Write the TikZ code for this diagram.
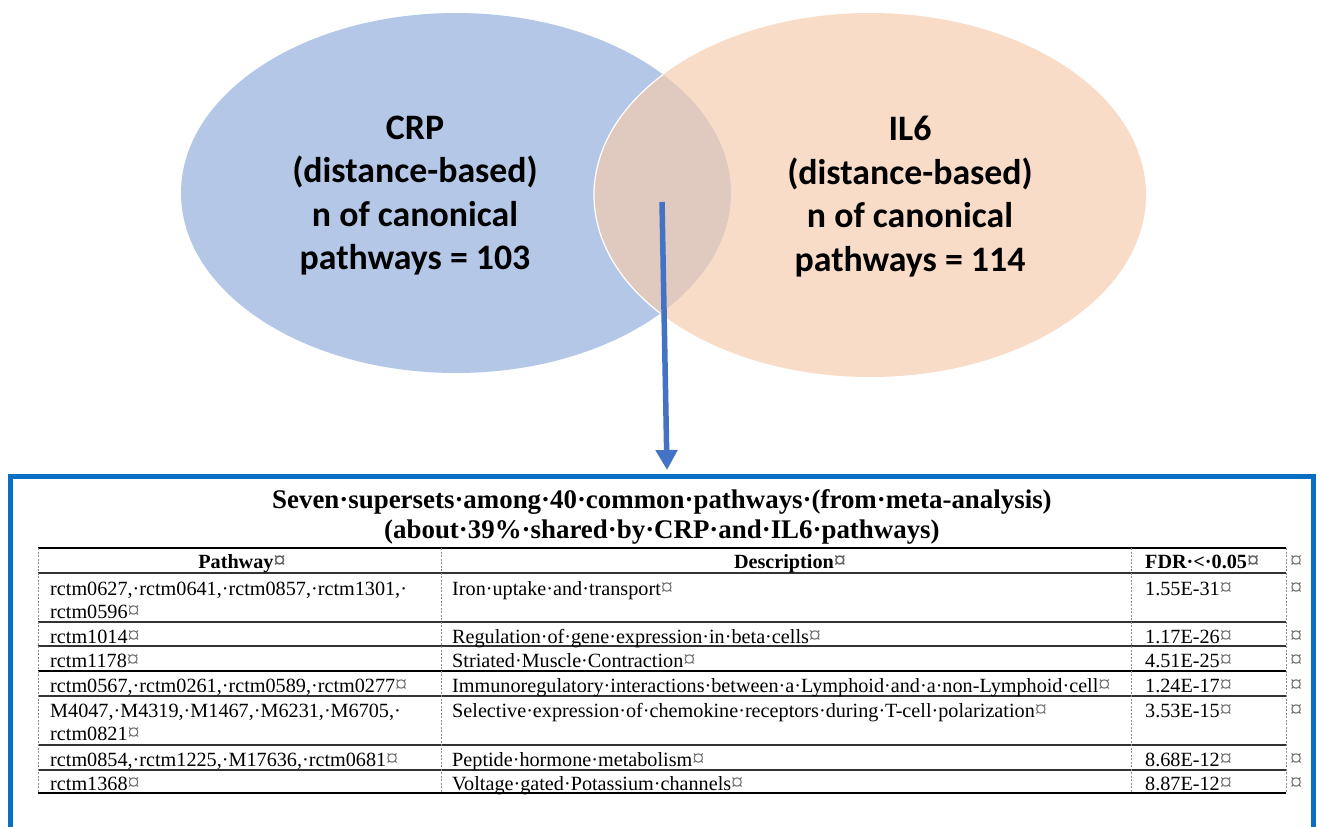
\documentclass[tikz,border=0pt]{standalone}
\usepackage{fontspec}
\setmainfont{Liberation Serif}
\newfontfamily\vennfont{Carlito}
\usetikzlibrary{arrows.meta}
\definecolor{crpblue}{HTML}{B4C7E7}
\definecolor{ilpeach}{HTML}{F9DCC7}
\definecolor{overlapc}{HTML}{E0CAC0}
\definecolor{arrowblue}{HTML}{4472C4}
\definecolor{boxblue}{HTML}{0A6FC2}
\newcommand\cellmk{{\color{black!60}\scalebox{1.2}{¤}}}
\tikzset{
  venntext/.style={font=\vennfont\bfseries\fontsize{35.8}{43.5}\selectfont, align=center, inner sep=0pt, anchor=base},
  titletext/.style={font=\bfseries\fontsize{26.9}{30}\selectfont, align=center, inner sep=0pt, anchor=base},
  cell/.style={font=\fontsize{20.2}{23}\selectfont, align=left, inner sep=0pt, anchor=base west},
  headcell/.style={font=\bfseries\fontsize{20.2}{23}\selectfont, inner sep=0pt, anchor=base},
  endmk/.style={font=\fontsize{20.2}{23}\selectfont, inner sep=0pt, anchor=base west, text=black!60},
  hline/.style={draw=black!80, line width=1.3pt},
  vline/.style={draw=black!45, line width=0.7pt, dash pattern=on 2pt off 1.5pt},
}
\begin{document}
\begin{tikzpicture}[x=1pt,y=-1pt]
\useasboundingbox (0,0) rectangle (1318,827);
\clip (0,0) rectangle (1318,827);
\fill[white] (0,0) rectangle (1318,827);
% Venn
\fill[crpblue] (456,193) ellipse [x radius=275, y radius=180];
\fill[ilpeach] (870,195) ellipse [x radius=276, y radius=182];
\begin{scope}
  \clip (456,193) ellipse [x radius=275, y radius=180];
  \fill[overlapc] (870,195) ellipse [x radius=276, y radius=182];
  \draw[white, line width=1.2pt] (870,195) ellipse [x radius=276, y radius=182];
\end{scope}
\node[venntext] (crp) at (415,269.5) {CRP\\(distance-based)\\n of canonical\\pathways = 103};
\node[venntext] (il6) at (910,271) {IL6\\(distance-based)\\n of canonical\\pathways = 114};
% box
\node[draw=boxblue, line width=5pt, minimum width=1303pt, minimum height=440pt, anchor=north, inner sep=0pt] (box) at (661.5,474) {};
% arrow
\coordinate (vs) at (662,202);
\coordinate (vt) at (667,470);
\draw[arrowblue, line width=5.5pt, -{Triangle[width=21pt,length=20pt]}] (vs) -- (vt);
% title
\node[titletext] (title) at (662,538) {Seven·supersets·among·40·common·pathways·(from·meta-analysis)\\(about·39\%·shared·by·CRP·and·IL6·pathways)};
% table lines
\foreach \yy in {573,622,646,696,745,770} \draw[hline] (38,\yy) -- (1286,\yy);
\foreach \yy in {548,671,793} \draw[hline, draw=black] (38,\yy) -- (1286,\yy);
\foreach \xx in {38,441,1131,1286} \draw[vline] (\xx,548) -- (\xx,793);
% header
\node[headcell] (h1) at (242,568) {Pathway\cellmk};
\node[headcell] (h2) at (790,568) {Description\cellmk};
\node[cell, font=\bfseries\fontsize{20.2}{23}\selectfont] (h3) at (1145,568) {FDR·<·0.05\cellmk};
\node[endmk] (e0) at (1290,568) {\cellmk};
% rows
\node[cell] (r1a) at (50,618) {rctm0627,·rctm0641,·rctm0857,·rctm1301,·\\rctm0596\cellmk};
\node[cell] (r1b) at (452,595) {Iron·uptake·and·transport\cellmk};
\node[cell] (r1c) at (1145,595) {1.55E-31\cellmk};
\node[endmk] (e1) at (1290,595) {\cellmk};
\node[cell] (r2a) at (50,643) {rctm1014\cellmk};
\node[cell] (r2b) at (452,643) {Regulation·of·gene·expression·in·beta·cells\cellmk};
\node[cell] (r2c) at (1145,643) {1.17E-26\cellmk};
\node[endmk] (e2) at (1290,643) {\cellmk};
\node[cell] (r3a) at (50,667) {rctm1178\cellmk};
\node[cell] (r3b) at (452,667) {Striated·Muscle·Contraction\cellmk};
\node[cell] (r3c) at (1145,667) {4.51E-25\cellmk};
\node[endmk] (e3) at (1290,667) {\cellmk};
\node[cell] (r4a) at (50,692) {rctm0567,·rctm0261,·rctm0589,·rctm0277\cellmk};
\node[cell] (r4b) at (452,692) {Immunoregulatory·interactions·between·a·Lymphoid·and·a·non-Lymphoid·cell\cellmk};
\node[cell] (r4c) at (1145,692) {1.24E-17\cellmk};
\node[endmk] (e4) at (1290,692) {\cellmk};
\node[cell] (r5a) at (50,740) {M4047,·M4319,·M1467,·M6231,·M6705,·\\rctm0821\cellmk};
\node[cell] (r5b) at (452,717) {Selective·expression·of·chemokine·receptors·during·T-cell·polarization\cellmk};
\node[cell] (r5c) at (1145,717) {3.53E-15\cellmk};
\node[endmk] (e5) at (1290,717) {\cellmk};
\node[cell] (r6a) at (50,766) {rctm0854,·rctm1225,·M17636,·rctm0681\cellmk};
\node[cell] (r6b) at (452,766) {Peptide·hormone·metabolism\cellmk};
\node[cell] (r6c) at (1145,766) {8.68E-12\cellmk};
\node[endmk] (e6) at (1290,766) {\cellmk};
\node[cell] (r7a) at (50,790) {rctm1368\cellmk};
\node[cell] (r7b) at (452,790) {Voltage·gated·Potassium·channels\cellmk};
\node[cell] (r7c) at (1145,790) {8.87E-12\cellmk};
\node[endmk] (e7) at (1290,790) {\cellmk};
\end{tikzpicture}
\end{document}
